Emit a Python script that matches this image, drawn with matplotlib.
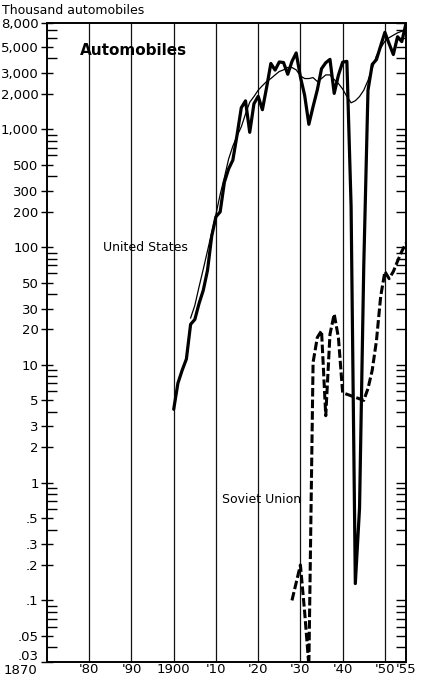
import matplotlib
matplotlib.use('Agg')
import matplotlib.pyplot as plt
import matplotlib.transforms as mtransforms
from matplotlib.ticker import FixedLocator, NullFormatter, FixedFormatter

plt.rcParams['font.family'] = ['DejaVu Sans']

# ---------------- data ----------------
us_years = list(range(1900, 1956))
us_values = [4.2, 7.0, 9.0, 11.2, 22.1, 24.3, 33.2, 43.0, 63.5, 123.9,
             181.0, 199.3, 356.0, 461.5, 548.1, 895.9, 1525.6, 1745.8, 943.4, 1651.6,
             1905.6, 1468.0, 2274.2, 3624.7, 3185.9, 3735.2, 3692.3, 2936.5, 3775.4, 4455.2,
             2787.5, 1948.2, 1103.6, 1560.6, 2160.9, 3273.9, 3679.2, 3929.2, 2019.6, 2888.5,
             3717.4, 3779.7, 222.9, 0.139, 0.61, 69.5, 2148.7, 3558.2, 3909.2, 5119.5,
             6665.9, 5338.4, 4320.7, 6116.9, 5558.9, 7920.2]

trend_years = list(range(1904, 1956))
trend_values = [25, 32, 46, 65, 93, 133, 190, 280, 390, 560,
                720, 880, 1050, 1350, 1700, 1900, 2150, 2350, 2550, 2700,
                2900, 3100, 3200, 3350, 3350, 3200, 2850, 2700, 2700, 2750,
                2550, 2700, 2900, 2900, 2650, 2450, 2200, 1900, 1680, 1750,
                1900, 2150, 2600, 3300, 4200, 4900, 5600, 6000, 6300, 6600,
                6800, 7000]

su_years = [1928, 1930, 1931, 1932, 1933, 1934, 1935, 1936, 1937, 1938, 1939,
            1940, 1945, 1946, 1947, 1948, 1949, 1950, 1951, 1952, 1953, 1954, 1955]
su_values = [0.1, 0.2, 0.08, 0.028, 10.5, 17.1, 19.5, 3.7, 18.2, 27.0, 17.0,
             5.8, 5.0, 6.3, 9.0, 16.0, 38.0, 62.0, 54.0, 62.0, 76.0, 92.0, 108.0]

grid_years = [1880, 1890, 1900, 1910, 1920, 1930, 1940, 1950]
x_ticks = [1870, 1880, 1890, 1900, 1910, 1920, 1930, 1940, 1950, 1955]
x_labels = ['1870', "'80", "'90", '1900', "'10", "'20", "'30", "'40", "'50", "'55"]

y_major = [0.03, 0.05, 0.1, 0.2, 0.3, 0.5, 1, 2, 3, 5, 10, 20, 30, 50,
           100, 200, 300, 500, 1000, 2000, 3000, 5000, 8000]
y_labels = ['.03', '.05', '.1', '.2', '.3', '.5', '1', '2', '3', '5', '10', '20', '30', '50',
            '100', '200', '300', '500', '1,000', '2,000', '3,000', '5,000', '8,000']
y_minor = [m * 10 ** e for e in range(-2, 4) for m in (4, 6, 7, 8, 9)
           if 0.03 <= m * 10 ** e <= 8000]

# ---------------- figure ----------------
fig = plt.figure(figsize=(4.21, 6.8), dpi=100)
ax = fig.add_axes([47 / 421, 18 / 680, 359 / 421, 639 / 680])
ax.set_yscale('log')
ax.set_xlim(1870, 1955)
ax.set_ylim(0.03, 8000)

for yr in grid_years:
    ax.axvline(yr, color='#111111', lw=0.9, zorder=1)

ax.plot(trend_years, trend_values, color='black', lw=0.9, zorder=3)
ax.plot(us_years, us_values, color='black', lw=2.3, zorder=4,
        solid_joinstyle='round', solid_capstyle='round')
ax.plot(su_years, su_values, color='black', lw=2.2, zorder=4,
        linestyle=(0, (2.8, 1.0)), dash_joinstyle='round')

ax.yaxis.set_major_locator(FixedLocator(y_major))
ax.yaxis.set_major_formatter(FixedFormatter(y_labels))
ax.yaxis.set_minor_locator(FixedLocator(y_minor))
ax.yaxis.set_minor_formatter(NullFormatter())
ax.tick_params(axis='y', which='major', direction='inout', length=8, width=1.0,
               labelsize=9.5, pad=2)
ax.tick_params(axis='y', which='minor', direction='in', length=7, width=1.0)

ax.set_xticks(x_ticks)
ax.set_xticklabels(x_labels)
ax.tick_params(axis='x', length=0, labelsize=9.5, pad=1)
offset = mtransforms.ScaledTranslation(-27 / 100, -1 / 100, fig.dpi_scale_trans)
lab0 = ax.get_xticklabels()[0]
lab0.set_transform(lab0.get_transform() + offset)
up = mtransforms.ScaledTranslation(0, 7 / 100, fig.dpi_scale_trans)
ylab0 = ax.get_yticklabels()[0]
ylab0.set_transform(ylab0.get_transform() + up)

# right-hand ticks
ax2 = ax.twinx()
ax2.set_yscale('log')
ax2.set_ylim(0.03, 8000)
ax2.yaxis.set_major_locator(FixedLocator(y_major))
ax2.yaxis.set_minor_locator(FixedLocator(y_minor))
ax2.yaxis.set_major_formatter(NullFormatter())
ax2.yaxis.set_minor_formatter(NullFormatter())
ax2.tick_params(axis='y', which='both', direction='in', length=7, width=1.0)

for a in (ax, ax2):
    for s in a.spines.values():
        s.set_linewidth(1.2)

fig.text(2 / 421, 1 - 10 / 680, 'Thousand automobiles', fontsize=9,
         ha='left', va='center')
ax.text(1877.8, 4700, 'Automobiles', fontsize=11, fontweight='bold',
        ha='left', va='center')
ax.text(1883.3, 100, 'United States', fontsize=9, ha='left', va='center')
ax.text(1911.4, 0.72, 'Soviet Union', fontsize=9, ha='left', va='center')

fig.savefig('out.png', dpi=100)
